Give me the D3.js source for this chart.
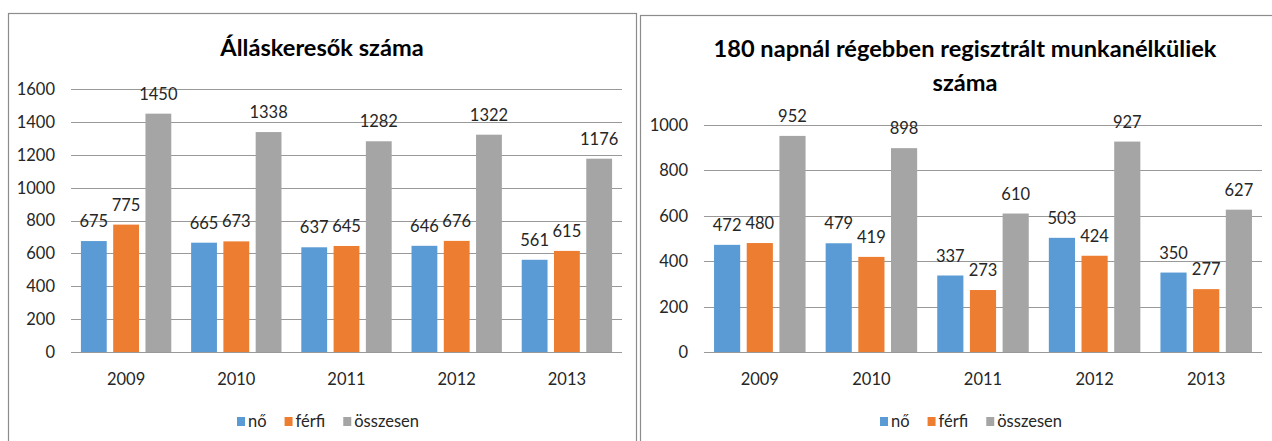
<!DOCTYPE html>
<html>
<head>
<meta charset="utf-8">
<script src="https://cdn.jsdelivr.net/npm/d3@7"></script>
<style>
  body { margin: 0; background: white; }
  text { font-family: Lato, "Open Sans", sans-serif; }
</style>
</head>
<body>
<div id="plot"></div>
<script>
// data
const years = ["2009", "2010", "2011", "2012", "2013"];
const seriesNames = ["nő", "férfi", "összesen"];
const colors = ["#5B9BD5", "#ED7D31", "#A5A5A5"];

const jobNo = [675, 665, 637, 646, 561];
const jobFerfi = [775, 673, 645, 676, 615];
const jobOssz = [1450, 1338, 1282, 1322, 1176];
const jobTicks = [0, 200, 400, 600, 800, 1000, 1200, 1400, 1600];

const longNo = [472, 479, 337, 503, 350];
const longFerfi = [480, 419, 273, 424, 277];
const longOssz = [952, 898, 610, 927, 627];
const longTicks = [0, 200, 400, 600, 800, 1000];

const w = 1272;
const h = 441;
const fs = 16.5;

const svg = d3.select("div#plot")
      .append("svg")
      .attr("width", w)
      .attr("height", h);

function drawChart(cfg) {
      const g = svg.append("g");

      // frame
      g.append("rect")
        .attr("x", cfg.frame[0] + 0.5)
        .attr("y", cfg.frame[1] + 0.5)
        .attr("width", cfg.frame[2] - cfg.frame[0])
        .attr("height", 500)
        .attr("fill", "white")
        .attr("stroke", "#8c8c8c")
        .attr("stroke-width", 1.2);

      const cx = (cfg.frame[0] + cfg.frame[2]) / 2;

      // title
      cfg.title.forEach((t, i) => {
        g.append("text")
          .attr("x", cx)
          .attr("y", cfg.titleY + i * cfg.titleGap)
          .attr("text-anchor", "middle")
          .attr("font-size", 23.6)
          .attr("font-weight", "bold")
          .attr("fill", "#000")
          .text(t);
      });

      const xScale = d3.scaleBand()
        .domain(years)
        .range([cfg.left, cfg.right])
        .paddingInner(0.18)
        .paddingOuter(0.09);

      const xSub = d3.scaleBand()
        .domain(d3.range(3))
        .range([0, xScale.bandwidth()])
        .paddingInner(0.2);

      const yScale = d3.scaleLinear()
        .domain([0, d3.max(cfg.ticks)])
        .range([cfg.bottom, cfg.top]);

      // gridlines
      g.append("g")
        .selectAll("line")
        .data(cfg.ticks)
        .enter()
        .append("line")
        .attr("x1", cfg.left)
        .attr("x2", cfg.right)
        .attr("y1", d => Math.round(yScale(d)) + 0.5)
        .attr("y2", d => Math.round(yScale(d)) + 0.5)
        .attr("stroke", "#999")
        .attr("stroke-width", 1.2);

      // y labels
      g.append("g")
        .selectAll("text")
        .data(cfg.ticks)
        .enter()
        .append("text")
        .attr("x", cfg.left - 16)
        .attr("y", d => yScale(d))
        .attr("dy", "0.36em")
        .attr("text-anchor", "end")
        .attr("font-size", fs)
        .attr("fill", "#262626")
        .text(d => d);

      // x labels
      g.append("g")
        .selectAll("text")
        .data(years)
        .enter()
        .append("text")
        .attr("x", d => xScale(d) + xScale.bandwidth() / 2)
        .attr("y", 385)
        .attr("text-anchor", "middle")
        .attr("font-size", fs)
        .attr("fill", "#262626")
        .text(d => d);

      // bars + labels
      cfg.series.forEach((vals, si) => {
        const grp = g.append("g");
        grp.selectAll("rect")
          .data(vals)
          .enter()
          .append("rect")
          .attr("x", (d, i) => xScale(years[i]) + xSub(si))
          .attr("y", d => yScale(d))
          .attr("width", xSub.bandwidth())
          .attr("height", d => cfg.bottom - yScale(d))
          .attr("fill", colors[si]);
        grp.selectAll("text")
          .data(vals)
          .enter()
          .append("text")
          .attr("x", (d, i) => xScale(years[i]) + xSub(si) + xSub.bandwidth() / 2)
          .attr("y", d => yScale(d) - 14)
          .attr("text-anchor", "middle")
          .attr("font-size", fs)
          .attr("fill", "#262626")
          .text(d => d);
      });

      // legend
      const leg = g.append("g");
      let lx = 0;
      seriesNames.forEach((name, i) => {
        const item = leg.append("g").attr("transform", `translate(${lx},0)`);
        item.append("rect")
          .attr("x", 0)
          .attr("y", -10)
          .attr("width", 8)
          .attr("height", 9)
          .attr("fill", colors[i]);
        const t = item.append("text")
          .attr("x", 11)
          .attr("y", 0)
          .attr("font-size", fs)
          .attr("fill", "#262626")
          .text(name);
        lx += 11 + t.node().getComputedTextLength() + 18;
      });
      const legW = lx - 18;
      leg.attr("transform", `translate(${cx - legW / 2 + 6},427)`);
}

drawChart({
      frame: [8, 13, 636],
      title: ["Álláskeresők száma"],
      titleY: 56,
      titleGap: 0,
      left: 71, right: 622, top: 89, bottom: 352,
      ticks: jobTicks,
      series: [jobNo, jobFerfi, jobOssz]
});

drawChart({
      frame: [640, 15, 1290],
      title: ["180 napnál régebben regisztrált munkanélküliek", "száma"],
      titleY: 57,
      titleGap: 34,
      left: 704, right: 1262, top: 125, bottom: 352,
      ticks: longTicks,
      series: [longNo, longFerfi, longOssz]
});
</script>
</body>
</html>
